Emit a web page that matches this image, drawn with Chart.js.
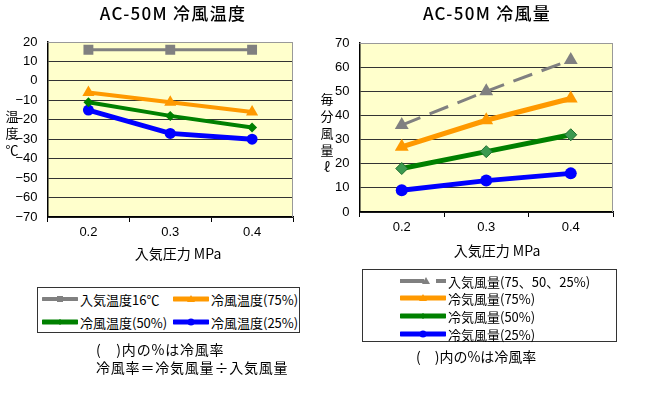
<!DOCTYPE html>
<html lang="ja">
<head>
  <meta charset="UTF-8">
  <title>AC-50M 冷風温度 / 冷風量</title>
  <script src="https://cdn.jsdelivr.net/npm/chart.js"></script>
  <style>
    body {
      margin: 0;
      padding: 0;
      background: #fff;
      font-family: "Noto Sans CJK JP", sans-serif;
      color: #000;
    }
    #wrap { position: relative; width: 658px; height: 399px; overflow: hidden; }
    .abs { position: absolute; white-space: nowrap; }
    .title { font-size: 17px; font-weight: 500; letter-spacing: 1.3px; text-align: center; width: 240px; line-height: 20px; }
    .ytitle { font-size: 13px; line-height: 17px; text-align: center; width: 16px; }
    .xtitle { font-size: 14px; text-align: center; width: 160px; line-height: 16px; }
    .legend { border: 1px solid #333; box-sizing: border-box; font-size: 13px; }
    .item { position: absolute; display: flex; align-items: center; height: 18px; }
    .item svg { margin-right: 2px; }
    .note { font-size: 14px; line-height: 18px; }
    canvas { position: absolute; top: 0; }
  </style>
</head>
<body>
<div id="wrap">
  <canvas id="tempChart" style="left:0"></canvas>
  <canvas id="flowChart" style="left:320px"></canvas>

  <!-- titles -->
  <div class="abs title" style="left:53px; top:3px">AC-50M 冷風温度</div>
  <div class="abs title" style="left:367px; top:3px">AC-50M 冷風量</div>

  <!-- axis titles -->
  <div class="abs ytitle" style="left:4px; top:107px">温<br>度<br>℃</div>
  <div class="abs ytitle" style="left:319px; top:90px">毎<br>分<br>風<br>量<br>ℓ</div>
  <div class="abs xtitle" style="left:98px; top:245px">入気圧力 MPa</div>
  <div class="abs xtitle" style="left:417px; top:242px">入気圧力 MPa</div>

  <!-- legends -->
  <div id="legendTemp" class="abs legend" style="left:37px; top:287px; width:263px; height:46px"></div>
  <div id="legendFlow" class="abs legend" style="left:362px; top:269px; width:255px; height:73px"></div>

  <!-- notes -->
  <div class="abs note" style="left:96px; top:340px; letter-spacing:0.8px">(　)内の%は冷風率<br>冷風率＝冷気風量÷入気風量</div>
  <div class="abs note" style="left:416px; top:347px">(　)内の%は冷風率</div>
</div>

<script>
  // categories (inlet pressure, MPa)
  const pressures = ["0.2", "0.3", "0.4"];

  // left chart: temperature (°C)
  const inletTemp = [16, 16, 16];
  const coldTemp75 = [-6, -11, -16];
  const coldTemp50 = [-11, -18, -24];
  const coldTemp25 = [-15, -27, -30];
  const tempMin = -70, tempMax = 20, tempStep = 10;

  // right chart: flow (l/min)
  const inletFlow = [36, 50, 63];
  const coldFlow75 = [27, 38, 47];
  const coldFlow50 = [18, 25, 32];
  const coldFlow25 = [9, 13, 16];
  const flowMin = 0, flowMax = 70, flowStep = 10;

  const GRAY = "#808080", ORANGE = "#FF9900", GREEN = "#008000", BLUE = "#0000FF";

  // pale yellow plot background + gray top/right frame
  const framePlugin = {
    id: "frame",
    beforeDraw(chart) {
      const { ctx, chartArea: a } = chart;
      ctx.save();
      ctx.fillStyle = "#FFFFCC";
      ctx.fillRect(a.left, a.top, a.right - a.left, a.bottom - a.top);
      ctx.restore();
    },
    beforeDatasetsDraw(chart) {
      const { ctx, chartArea: a } = chart;
      ctx.save();
      ctx.strokeStyle = "#999";
      ctx.lineWidth = 1;
      ctx.beginPath();
      ctx.moveTo(a.left, a.top + 0.5);
      ctx.lineTo(a.right - 0.5, a.top + 0.5);
      ctx.lineTo(a.right - 0.5, a.bottom);
      ctx.stroke();
      ctx.restore();
    }
  };

  const tickFont = { family: "Liberation Sans", size: 13 };

  function makeOptions(min, max, step, yWidth, xHeight, padTop, padRight) {
    return {
      responsive: false,
      animation: false,
      layout: { padding: { top: padTop, right: padRight, left: 0, bottom: 0 } },
      plugins: { legend: { display: false }, title: { display: false }, tooltip: { enabled: false } },
      scales: {
        x: {
          type: "category",
          offset: true,
          grid: { offset: true, drawOnChartArea: false, drawTicks: true, tickLength: 5, color: "#000" },
          border: { color: "#000", width: 1.5 },
          ticks: { color: "#000", padding: 3, font: tickFont },
          afterFit(scale) { scale.height = xHeight; }
        },
        y: {
          min: min,
          max: max,
          grid: {
            drawTicks: false,
            color: (c) => (c.tick && c.tick.value === max ? "#999" : "#333"),
            lineWidth: 1
          },
          border: { color: "#000", width: 1.5 },
          ticks: {
            stepSize: step,
            color: "#000",
            padding: 10,
            font: tickFont,
            callback: (v) => String(v).replace("-", "\u2212")
          },
          afterFit(scale) { scale.width = yWidth; }
        }
      }
    };
  }

  const tempCanvas = document.getElementById("tempChart");
  tempCanvas.width = 320; tempCanvas.height = 260;
  new Chart(tempCanvas, {
    type: "line",
    data: {
      labels: pressures,
      datasets: [
        { label: "入気温度16℃", data: inletTemp, borderColor: GRAY, backgroundColor: GRAY,
          borderWidth: 3, pointStyle: "rect", pointRadius: 7, pointBorderWidth: 0 },
        { label: "冷風温度(75%)", data: coldTemp75, borderColor: ORANGE, backgroundColor: ORANGE,
          borderWidth: 4, pointStyle: "triangle", pointRadius: 7, pointBorderWidth: 0 },
        { label: "冷風温度(50%)", data: coldTemp50, borderColor: GREEN, backgroundColor: GREEN,
          borderWidth: 4, pointStyle: "rectRot", pointRadius: 5, pointBorderWidth: 0 },
        { label: "冷風温度(25%)", data: coldTemp25, borderColor: BLUE, backgroundColor: BLUE,
          borderWidth: 5, pointStyle: "circle", pointRadius: 5.5, pointBorderWidth: 0 }
      ]
    },
    options: makeOptions(tempMin, tempMax, tempStep, 47.5, 43, 42, 27),
    plugins: [framePlugin]
  });

  const flowCanvas = document.getElementById("flowChart");
  flowCanvas.width = 338; flowCanvas.height = 260;
  new Chart(flowCanvas, {
    type: "line",
    data: {
      labels: pressures,
      datasets: [
        { label: "入気風量(75、50、25%)", data: inletFlow, borderColor: GRAY, backgroundColor: GRAY,
          borderWidth: 3, borderDash: [20, 10], pointStyle: "triangle", pointRadius: 8, pointBorderWidth: 0 },
        { label: "冷気風量(75%)", data: coldFlow75, borderColor: ORANGE, backgroundColor: ORANGE,
          borderWidth: 5, pointStyle: "triangle", pointRadius: 8, pointBorderWidth: 0 },
        { label: "冷気風量(50%)", data: coldFlow50, borderColor: GREEN, backgroundColor: "#3C9A50",
          borderWidth: 5, pointStyle: "rectRot", pointRadius: 6, pointBorderWidth: 1, pointBorderColor: "#1F6F2F" },
        { label: "冷気風量(25%)", data: coldFlow25, borderColor: BLUE, backgroundColor: BLUE,
          borderWidth: 5, pointStyle: "circle", pointRadius: 6, pointBorderWidth: 0 }
      ]
    },
    options: makeOptions(flowMin, flowMax, flowStep, 39.5, 48, 43, 45),
    plugins: [framePlugin]
  });

  // legend line samples (small svg)
  function sample(color, width, marker, dashed, len) {
    let line;
    if (dashed) {
      line = `<line x1="0" y1="6" x2="24" y2="6" stroke="${color}" stroke-width="${width}"/>` +
             `<line x1="36" y1="6" x2="${len}" y2="6" stroke="${color}" stroke-width="${width}"/>`;
    } else {
      line = `<line x1="1" y1="6" x2="${len - 1}" y2="6" stroke="${color}" stroke-width="${width}" stroke-linecap="round"/>`;
    }
    let m = "";
    const cx = dashed ? 26 : len / 2;
    if (marker === "rect") m = `<rect x="${cx - 3}" y="3" width="6" height="6" fill="${color}"/>`;
    if (marker === "triangle") m = `<polygon points="${cx},2 ${cx + 4},9 ${cx - 4},9" fill="${color}"/>`;
    if (marker === "rectRot") m = `<polygon points="${cx},3 ${cx + 3},6 ${cx},9 ${cx - 3},6" fill="${color}"/>`;
    if (marker === "circle") m = `<circle cx="${cx}" cy="6" r="3.5" fill="${color}"/>`;
    return `<svg width="${len}" height="12">${line}${m}</svg>`;
  }

  const tempLegend = [
    { text: "入気温度16℃", color: GRAY, w: 4, marker: "rect", x: 4, y: 2 },
    { text: "冷風温度(75%)", color: ORANGE, w: 5, marker: "triangle", x: 135, y: 2 },
    { text: "冷風温度(50%)", color: GREEN, w: 5, marker: "rectRot", x: 4, y: 25 },
    { text: "冷風温度(25%)", color: BLUE, w: 5, marker: "circle", x: 135, y: 25 }
  ];
  const flowLegend = [
    { text: "入気風量(75、50、25%)", color: GRAY, w: 4, marker: "triangle", dashed: true, x: 37, y: 2 },
    { text: "冷気風量(75%)", color: ORANGE, w: 5, marker: "triangle", x: 37, y: 19 },
    { text: "冷気風量(50%)", color: GREEN, w: 5, marker: "rectRot", x: 37, y: 37 },
    { text: "冷気風量(25%)", color: BLUE, w: 5, marker: "circle", x: 37, y: 55 }
  ];

  function buildLegend(id, items, len) {
    const box = document.getElementById(id);
    items.forEach((it) => {
      const d = document.createElement("div");
      d.className = "item";
      d.style.left = it.x + "px";
      d.style.top = it.y + "px";
      d.innerHTML = sample(it.color, it.w, it.marker, it.dashed, len) + "<span>" + it.text + "</span>";
      box.appendChild(d);
    });
  }
  buildLegend("legendTemp", tempLegend, 36);
  buildLegend("legendFlow", flowLegend, 46);
</script>
</body>
</html>
